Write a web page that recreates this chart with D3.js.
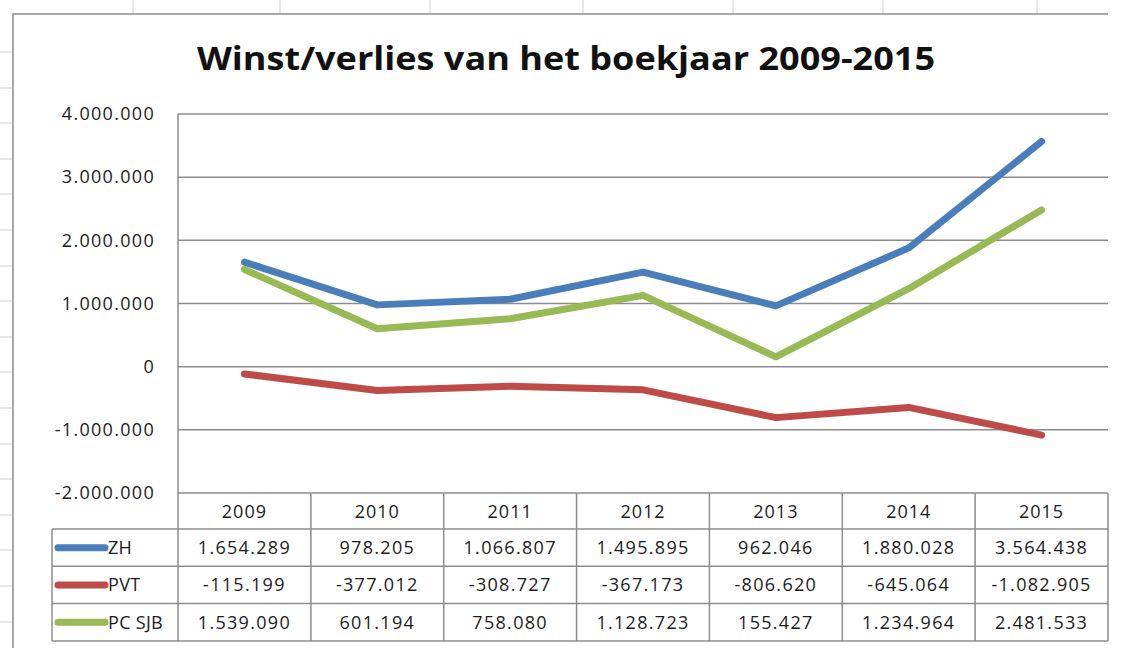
<!DOCTYPE html>
<html>
<head>
<meta charset="utf-8">
<script src="https://cdn.jsdelivr.net/npm/d3@7"></script>
<style>
  html, body { margin: 0; padding: 0; background: #fff; }
  svg { display: block; }
  text { font-family: "Open Sans", "Noto Sans", sans-serif; fill: #1c1c1c; }
</style>
</head>
<body>
<svg id="chart" width="1122" height="648"></svg>
<script>
// Jaarresultaten per onderdeel, 2009-2015
const years = ["2009", "2010", "2011", "2012", "2013", "2014", "2015"];
const zh    = [1654289, 978205, 1066807, 1495895, 962046, 1880028, 3564438];
const pvt   = [-115199, -377012, -308727, -367173, -806620, -645064, -1082905];
const pcsjb = [1539090, 601194, 758080, 1128723, 155427, 1234964, 2481533];
const seriesNames  = ["ZH", "PVT", "PC SJB"];
const seriesColors = ["#4a7ebb", "#be4b48", "#98b954"];
const yTicks = [-2000000, -1000000, 0, 1000000, 2000000, 3000000, 4000000];
const title = "Winst/verlies van het boekjaar 2009-2015";

const series = seriesNames.map((name, i) => ({
  name, color: seriesColors[i], values: [zh, pvt, pcsjb][i]
}));

// Dutch number notation: dots as thousands separators
const nl = d3.formatLocale({ decimal: ",", thousands: ".", grouping: [3], currency: ["€ ", ""], minus: "-" });
const fmt = nl.format(",d");

const svg = d3.select("#chart");
const grey = "#8c8c8c";

// Worksheet edge: column and row markers behind the chart
const sheet = svg.append("g");
d3.range(7).forEach(i => {
  const x = [133, 280, 430, 583, 733, 883, 1037][i];
  sheet.append("line").attr("x1", x).attr("x2", x).attr("y1", 0).attr("y2", 13)
    .attr("stroke", "#cfcfcf").attr("stroke-width", 1);
});
d3.range(17).forEach(i => {
  const y = Math.round(52 + i * 35.6);
  sheet.append("line").attr("x1", 0).attr("x2", 12).attr("y1", y).attr("y2", y)
    .attr("stroke", "#cfcfcf").attr("stroke-width", 1);
});
// chart frame
sheet.append("path").attr("d", "M13,648 V14 H1108")
  .attr("fill", "none").attr("stroke", grey).attr("stroke-width", 1.5);

// Plot geometry
const plot = { left: 178, right: 1108, top: 114, bottom: 493 };
const table = { left: 52, header: 529, rowH: 37.3 };

const x = d3.scaleBand().domain(years).range([plot.left, plot.right]);
const y = d3.scaleLinear().domain([-2000000, 4000000]).range([plot.bottom, plot.top]);
const xc = d => x(d) + x.bandwidth() / 2;

// Title
svg.append("text")
  .attr("x", 566).attr("y", 70)
  .attr("text-anchor", "middle")
  .attr("font-size", 32).attr("font-weight", 700)
  .attr("textLength", 738).attr("lengthAdjust", "spacingAndGlyphs")
  .style("fill", "#111")
  .text(title);

// Horizontal gridlines
svg.append("g").selectAll("line").data(yTicks).join("line")
  .attr("x1", plot.left).attr("x2", plot.right)
  .attr("y1", d => y(d)).attr("y2", d => y(d))
  .attr("stroke", grey).attr("stroke-width", 1.5);

// Value axis labels
const yAxis = svg.append("g")
  .attr("transform", `translate(${plot.left},0)`)
  .call(d3.axisLeft(y).tickValues(yTicks).tickSize(0).tickPadding(23).tickFormat(fmt));
yAxis.select(".domain").remove();
yAxis.selectAll("text")
  .attr("font-size", 18).attr("letter-spacing", 1.3)
  .style("font-family", "\"Open Sans\", sans-serif")
  .style("fill", "#1c1c1c");

// Plot area left edge
svg.append("line")
  .attr("x1", plot.left).attr("x2", plot.left)
  .attr("y1", plot.top).attr("y2", plot.bottom)
  .attr("stroke", grey).attr("stroke-width", 1.5);

// Series lines
const line = d3.line().x((d, i) => xc(years[i])).y(d => y(d));
svg.append("g").selectAll("path").data(series).join("path")
  .attr("d", d => line(d.values))
  .attr("fill", "none")
  .attr("stroke", d => d.color)
  .attr("stroke-width", 7)
  .attr("stroke-linecap", "round")
  .attr("stroke-linejoin", "round");

// Data table below the plot
const tg = svg.append("g");
const tableBottom = table.header + table.rowH * series.length;
const tl = (x1, y1, x2, y2) => tg.append("line")
  .attr("x1", x1).attr("y1", y1).attr("x2", x2).attr("y2", y2)
  .attr("stroke", grey).attr("stroke-width", 1.5);

// column separators
years.forEach(yr => tl(x(yr) + x.bandwidth(), plot.bottom, x(yr) + x.bandwidth(), tableBottom));
tl(plot.left, plot.bottom, plot.left, tableBottom);
tl(table.left, table.header, table.left, tableBottom);
// row separators
d3.range(series.length + 1).forEach(i => {
  const ry = table.header + i * table.rowH;
  tl(table.left, ry, plot.right, ry);
});

// header: years
tg.selectAll("text.year").data(years).join("text")
  .attr("class", "year")
  .attr("x", d => xc(d))
  .attr("y", (plot.bottom + table.header) / 2 + 6.5)
  .attr("text-anchor", "middle")
  .attr("font-size", 18).attr("letter-spacing", 1)
  .text(d => d);

// rows: legend key + values
series.forEach((s, i) => {
  const cy = table.header + (i + 0.5) * table.rowH;
  tg.append("line")
    .attr("x1", 58).attr("x2", 105).attr("y1", cy).attr("y2", cy)
    .attr("stroke", s.color).attr("stroke-width", 7).attr("stroke-linecap", "round");
  tg.append("text")
    .attr("x", 108).attr("y", cy + 6.5)
    .attr("font-size", 18).attr("letter-spacing", 0.3)
    .text(s.name);
  tg.selectAll(null).data(s.values).join("text")
    .attr("x", (d, j) => xc(years[j]))
    .attr("y", cy + 6.5)
    .attr("text-anchor", "middle")
    .attr("font-size", 18).attr("letter-spacing", 1.3)
    .text(d => fmt(d));
});
</script>
</body>
</html>
